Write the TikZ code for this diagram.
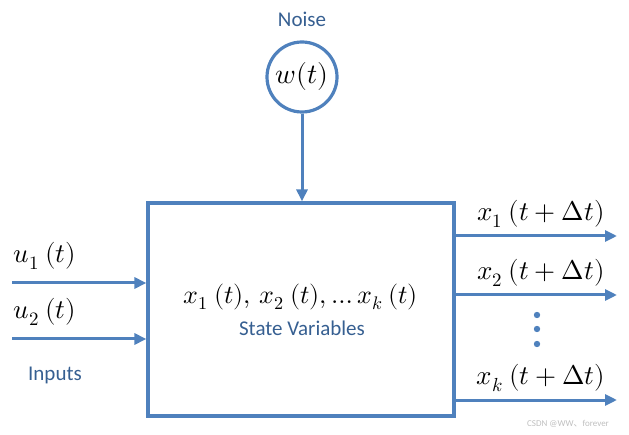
\documentclass[tikz,border=0pt]{standalone}
\usepackage{amsmath}
\usepackage{fontspec}
\usepackage{unicode-math}
\setmainfont{Carlito}
\setmathfont{Latin Modern Math}
\newfontfamily\cjk{Noto Sans CJK SC}
\usepackage{tikz}
\usetikzlibrary{calc,positioning,arrows.meta}
\definecolor{lineblue}{RGB}{79,129,189}
\definecolor{textblue}{RGB}{54,95,145}
\tikzset{
    flow/.style={line width=3pt,lineblue,-{Triangle[length=12pt,width=11pt]}},
    lbl/.style={inner sep=0pt,font=\fontsize{27}{32}\selectfont},
    capt/.style={inner sep=0pt,textblue,font=\fontsize{21}{25}\selectfont},
}

\begin{document}
\begin{tikzpicture}[x=1pt,y=-1pt]
    \useasboundingbox (0,0) rectangle (629,435);
    \node[draw=lineblue,line width=3.2pt,minimum width=306pt,minimum height=213pt] (sys) at (301,309.5) {};
    \node[draw=lineblue,line width=3.2pt,circle,minimum size=70pt,inner sep=0pt,font=\fontsize{28}{32}\selectfont] (noise) at (302,77) {$w(t)$};
    \node[capt] (noiselbl) at (302,19) {Noise};
    \draw[flow] (noise) -- (noise |- sys.north);
    % inputs
    \coordinate (u1) at (12,283);
    \coordinate (u2) at (12,339);
    \draw[flow] (u1) -- (u1 -| sys.west);
    \draw[flow] (u2) -- (u2 -| sys.west);
    \node[lbl] (u1lbl) at (45,256) {$u_1\ (t)$};
    \node[lbl] (u2lbl) at (45,312) {$u_2\ (t)$};
    \node[capt] (inlbl) at (55,375) {Inputs};
    % state
    \node[lbl,font=\fontsize{26}{30}\selectfont] (state) at (301,297) {$x_1\ (t),\, x_2\ (t), \ldots x_k\ (t)$};
    \node[capt] (statelbl) at (302,328) {State Variables};
    % outputs
    \coordinate (x1) at (617,236);
    \coordinate (x2) at (617,295);
    \coordinate (xk) at (617,400);
    \draw[flow] (x1 -| sys.east) -- (x1);
    \draw[flow] (x2 -| sys.east) -- (x2);
    \draw[flow] (xk -| sys.east) -- (xk);
    \node[lbl] (x1lbl) at (541,214) {$x_1\ (t+\Delta t)$};
    \node[lbl] (x2lbl) at (541,273) {$x_2\ (t+\Delta t)$};
    \node[lbl] (xklbl) at (541,378) {$x_k\ (t+\Delta t)$};
    \foreach \y in {315,329,344}
        \fill[lineblue] (537,\y) circle (3.2);
    \node[inner sep=0pt,gray!50,font=\fontsize{9}{11}\selectfont] (mark) at (568,424) {CSDN @WW{\cjk 、}forever};
\end{tikzpicture}
\end{document}
